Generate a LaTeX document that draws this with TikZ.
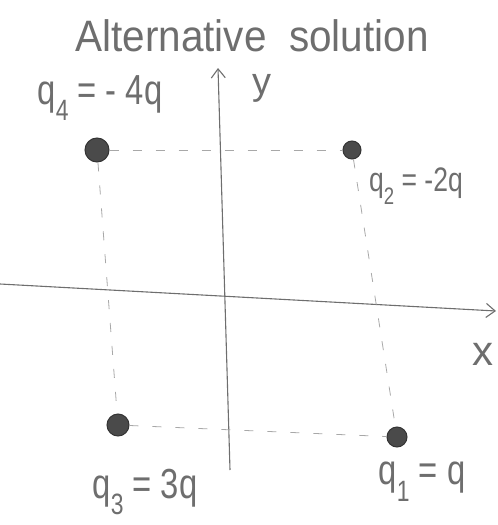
\documentclass[tikz,border=0pt]{standalone}
\usepackage{fontspec}
\setmainfont{Liberation Sans}
\usetikzlibrary{arrows.meta}
\definecolor{pencil}{HTML}{6E6E6E}
\definecolor{charge}{HTML}{4A4A4A}
\newcommand{\qsub}[1]{q\raisebox{-0.4em}{\scalebox{0.7}{#1}}}
\newcommand{\narrow}[1]{\scalebox{0.78}[1]{#1}}
\tikzset{
  axisline/.style={draw=pencil, line width=1.1pt},
  guide/.style={draw=pencil!60, line width=0.8pt, dash pattern=on 9pt off 14pt},
  chargedot/.style={circle, fill=charge, draw=charge!70!black, line width=1pt, inner sep=0pt},
  handtext/.style={text=pencil, inner sep=0pt, font=\fontsize{42}{44}\selectfont},
}
\begin{document}
\begin{tikzpicture}[x=1pt,y=-1pt]
\useasboundingbox (0,0) rectangle (498,525);
% title
\node[handtext, font=\fontsize{44}{46}\selectfont] (title) at (252,36) {\scalebox{0.92}[1]{Alternative\ \ solution}};
% axes
\coordinate (ybot) at (230,470);
\coordinate (ytop) at (218,68);
\draw[axisline, -{Straight Barb[length=9pt,width=14pt]}] (ybot) -- (ytop);
\node[handtext, font=\fontsize{38}{40}\selectfont] (ylab) at (262,88) {y};
\coordinate (xleft) at (0,284);
\coordinate (xright) at (496,311);
\draw[axisline, -{Straight Barb[length=9pt,width=14pt]}] (xleft) -- (xright);
\node[handtext] (xlab) at (483,354) {x};
% charges
\node[chargedot, minimum size=24pt] (q4) at (97,150) {};
\node[chargedot, minimum size=18pt] (q2) at (352,150) {};
\node[chargedot, minimum size=22pt] (q3) at (118,425) {};
\node[chargedot, minimum size=20pt] (q1) at (397,437) {};
% guide lines
\draw[guide] (q4) -- (q2);
\draw[guide] (q4) -- (q3);
\draw[guide] (q2) -- (q1);
\draw[guide] (q3) -- (q1);
% labels
\node[handtext] (l4) at (100,98) {\narrow{\qsub{4} = - 4q}};
\node[handtext, font=\fontsize{34}{36}\selectfont] (l2) at (416,186) {\narrow{\qsub{2} = -2q}};
\node[handtext] (l3) at (145,492) {\narrow{\qsub{3} = 3q}};
\node[handtext] (l1) at (422,482) {\narrow{\qsub{1} = q}};
\end{tikzpicture}
\end{document}
